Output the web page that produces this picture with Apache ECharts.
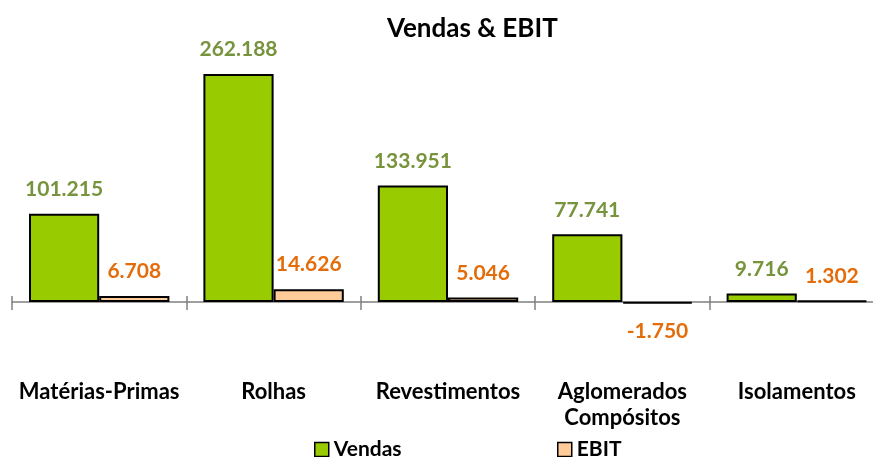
<!DOCTYPE html>
<html><head><meta charset="utf-8">
<script src="https://cdn.jsdelivr.net/npm/echarts@6/dist/echarts.min.js"></script>
<style>html,body{margin:0;padding:0;background:#fff}#c{width:873px;height:457px}</style>
</head><body><div id="c"></div>
<script>
const categories = ['Matérias-Primas', 'Rolhas', 'Revestimentos', 'Aglomerados\nCompósitos', 'Isolamentos'];
const vendas = [101.215, 262.188, 133.951, 77.741, 9.716];
const ebit = [6.708, 14.626, 5.046, -1.750, 1.302];

const fmt = v => v.toFixed(3);
const FONT = 'Lato';
const legendText = { fontFamily: FONT, fontWeight: 'bold', fontSize: 21, color: '#000' };
const chart = echarts.init(document.getElementById('c'));
chart.setOption({
  animation: false,
  title: { text: 'Vendas & EBIT', left: 382, top: 11,
    textStyle: { fontFamily: FONT, fontWeight: 'bold', fontSize: 26, color: '#000' } },
  legend: [
    { top: 439, left: 314, padding: 0, itemWidth: 14, itemHeight: 14, icon: 'rect', itemGap: 0,
      textStyle: legendText,
      data: [{ name: 'Vendas', itemStyle: { color: '#99CC00', borderColor: '#000', borderWidth: 1.5 } }] },
    { top: 439, left: 557, padding: 0, itemWidth: 14, itemHeight: 14, icon: 'rect', itemGap: 0,
      textStyle: legendText,
      data: [{ name: 'EBIT', itemStyle: { color: '#FFCC99', borderColor: '#000', borderWidth: 1.5 } }] }
  ],
  grid: { left: 12, width: 872, top: 41, height: 260.88, containLabel: false, outerBoundsMode: 'none' },
  xAxis: [{
    type: 'category', data: categories, position: 'bottom',
    axisLine: { onZero: false, lineStyle: { color: '#808080', width: 1.5 } },
    axisTick: { show: true, length: 8, lineStyle: { color: '#808080', width: 1.5 } },
    axisLabel: { margin: 77, fontFamily: FONT, fontWeight: 'bold', fontSize: 22, color: '#000', lineHeight: 26, interval: 0 }
  }, {
    type: 'category', data: categories, position: 'top', offset: -260.88,
    axisLine: { show: false, onZero: false },
    axisTick: { show: true, length: 6, lineStyle: { color: '#808080', width: 1.5 } },
    axisLabel: { show: false }
  }],
  yAxis: { type: 'value', min: 0, max: 300, show: false, splitLine: { show: false } },
  series: [{
    name: 'Vendas', type: 'bar', data: vendas, barGap: '0%', barCategoryGap: '19.5%', clip: false,
    itemStyle: { color: '#99CC00', borderColor: '#000', borderWidth: 2 },
    label: { show: true, position: 'top', distance: 14, formatter: p => fmt(p.value),
      fontFamily: FONT, fontWeight: 'bold', fontSize: 21, color: '#77933C' }
  }, {
    name: 'EBIT', type: 'bar', clip: false,
    data: ebit.map(v => v < 0 ? { value: v, label: { position: 'bottom', distance: 17 } } : v),
    itemStyle: { color: '#FFCC99', borderColor: '#000', borderWidth: 2 },
    label: { show: true, position: 'top', distance: 14, formatter: p => fmt(p.value),
      fontFamily: FONT, fontWeight: 'bold', fontSize: 21, color: '#E46C0A' }
  }]
});
</script></body></html>
